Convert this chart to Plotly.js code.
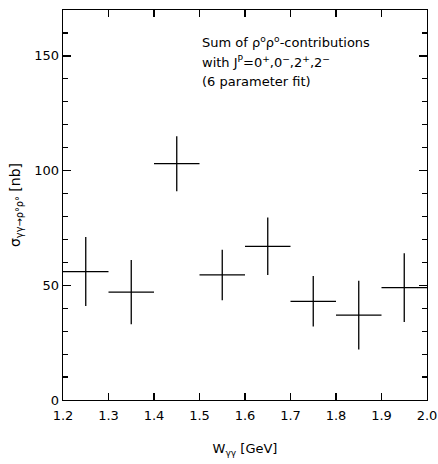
<!DOCTYPE html>
<html>
<head>
<meta charset="utf-8">
<script src="https://cdn.plot.ly/plotly-3.0.1.min.js"></script>
<style>html,body{margin:0;padding:0;background:#fff;}#chart{width:438px;height:464px;}</style>
</head>
<body>
<div id="chart"></div>
<script>
// W_gamma-gamma bin centres (GeV), bin half-width, cross sections (nb), errors (nb)
var binCenters = [1.25, 1.35, 1.45, 1.55, 1.65, 1.75, 1.85, 1.95];
var binHalfWidth = [0.05, 0.05, 0.05, 0.05, 0.05, 0.05, 0.05, 0.05];
var sigma = [56, 47, 103, 54.5, 67, 43, 37, 49];
var sigmaErr = [15, 14, 12, 11, 12.5, 11, 15, 15];
var xTickVals = [1.2, 1.3, 1.4, 1.5, 1.6, 1.7, 1.8, 1.9, 2.0];
var xTickText = ['1.2', '1.3', '1.4', '1.5', '1.6', '1.7', '1.8', '1.9', '2.0'];
var yTickVals = [0, 50, 100, 150];
var noteLines = [
  'Sum of ρ<sup>o</sup>ρ<sup>o</sup>-contributions',
  'with J<sup>P</sup>=0<sup>+</sup>,0<sup>−</sup>,2<sup>+</sup>,2<sup>−</sup>',
  '(6 parameter fit)'
];

var font = 'DejaVu Sans, Liberation Sans, sans-serif';

var trace = {
  x: binCenters,
  y: sigma,
  type: 'scatter',
  mode: 'markers',
  marker: {size: 0.1, color: 'black'},
  error_x: {type: 'data', array: binHalfWidth, symmetric: true, width: 0, thickness: 1.3, color: 'black'},
  error_y: {type: 'data', array: sigmaErr, symmetric: true, width: 0, thickness: 1.3, color: 'black'},
  showlegend: false,
  hoverinfo: 'skip'
};

var annotations = noteLines.map(function (t, i) {
  return {
    xref: 'paper', yref: 'paper',
    x: 0.376, y: 0.918 - i * 0.0513,
    xanchor: 'left', yanchor: 'middle',
    align: 'left',
    showarrow: false,
    font: {family: font, size: 13, color: 'black'},
    text: t
  };
});

var layout = {
  width: 438,
  height: 464,
  margin: {l: 63, r: 11, t: 10, b: 64},
  paper_bgcolor: 'white',
  plot_bgcolor: 'white',
  font: {family: font, size: 13, color: 'black'},
  xaxis: {
    range: [1.2, 2.0],
    tickvals: xTickVals,
    ticktext: xTickText,
    ticks: 'inside',
    ticklen: 7,
    tickwidth: 1.4,
    tickcolor: 'black',
    showline: true,
    linecolor: 'black',
    linewidth: 1.4,
    mirror: 'ticks',
    showgrid: false,
    zeroline: false,
    ticklabelstandoff: 3,
    tickfont: {family: font, size: 13},
    title: {text: 'W<sub>γγ</sub> [GeV]', font: {family: font, size: 13}, standoff: 22}
  },
  yaxis: {
    range: [0, 170],
    tickvals: yTickVals,
    ticks: 'inside',
    ticklen: 8,
    tickwidth: 1.4,
    tickcolor: 'black',
    showline: true,
    linecolor: 'black',
    linewidth: 1.4,
    mirror: 'ticks',
    showgrid: false,
    zeroline: false,
    minor: {dtick: 10, tick0: 0, ticks: 'inside', ticklen: 5, tickwidth: 1.2, tickcolor: 'black', showgrid: false},
    tickfont: {family: font, size: 13},
    title: {text: 'σ<sub>γγ→ρ°ρ°</sub> [nb]', font: {family: font, size: 14}, standoff: 10}
  },
  annotations: annotations
};

Plotly.newPlot('chart', [trace], layout, {displayModeBar: false, staticPlot: true});
</script>
</body>
</html>
